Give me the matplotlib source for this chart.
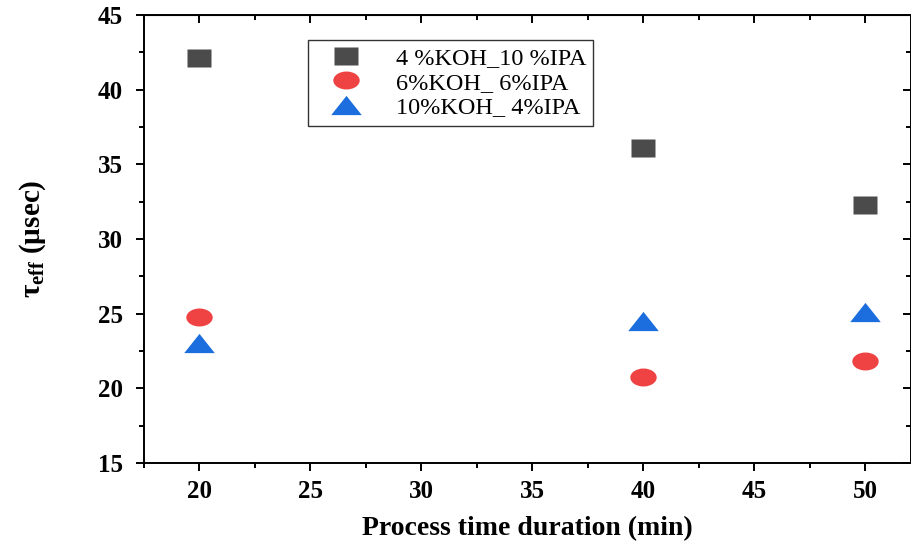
import matplotlib

matplotlib.use("Agg")

import matplotlib.pyplot as plt
import numpy as np
from matplotlib.path import Path
from matplotlib.ticker import MultipleLocator

# data
time_min = [20, 40, 50]
koh4_ipa10 = [42.15, 36.09, 32.31]
koh6_ipa6 = [24.75, 20.73, 21.84]
koh10_ipa4 = [23.05, 24.52, 25.10]
labels = ["4 %KOH_10 %IPA", "6%KOH_ 6%IPA", "10%KOH_ 4%IPA"]

plt.rcParams["font.family"] = ["Liberation Serif", "DejaVu Serif"]
plt.rcParams["mathtext.fontset"] = "custom"
plt.rcParams["mathtext.rm"] = "Liberation Serif:bold"
plt.rcParams["mathtext.it"] = "Liberation Serif:bold:italic"
plt.rcParams["mathtext.bf"] = "Liberation Serif:bold"

# the original markers are a bit wider than tall
sq = Path([(-1, -0.79), (1, -0.79), (1, 0.79), (-1, 0.79), (-1, -0.79)],
          closed=True)
circ = Path.unit_circle()
circ = Path(circ.vertices * np.array([1.0, 0.68]), circ.codes)
tri = Path([(0, 0.63), (-1, -0.63), (1, -0.63), (0, 0.63)], closed=True)

fig = plt.figure(figsize=(9.12, 5.42), dpi=100)
ax = fig.add_axes([144 / 912, 1 - 463 / 542, (911 - 144) / 912, 448 / 542])

ax.plot(time_min, koh4_ipa10, ls="none", marker=sq, ms=17,
        color="#4b4b4b", mec="none", label=labels[0])
ax.plot(time_min, koh6_ipa6, ls="none", marker=circ, ms=19,
        color="#ef4242", mec="none", label=labels[1])
ax.plot(time_min, koh10_ipa4, ls="none", marker=tri, ms=22,
        color="#1c6ddd", mec="none", label=labels[2])

ax.set_xlim(17.5, 52.05)
ax.set_ylim(15, 45)
ax.xaxis.set_major_locator(MultipleLocator(5))
ax.xaxis.set_minor_locator(MultipleLocator(2.5))
ax.yaxis.set_major_locator(MultipleLocator(5))
ax.yaxis.set_minor_locator(MultipleLocator(2.5))

for s in ax.spines.values():
    s.set_linewidth(1.4)
ax.tick_params(which="both", direction="out", width=1.4, labelsize=18)
ax.tick_params(axis="x", pad=6)
ax.tick_params(axis="y", pad=9)
ax.tick_params(which="major", length=6)
ax.tick_params(which="minor", length=3.5)
for lab in ax.get_xticklabels() + ax.get_yticklabels():
    lab.set_fontweight("bold")

# mirrored inward ticks on top/right, no labels
top = ax.secondary_xaxis("top")
top.xaxis.set_major_locator(MultipleLocator(5))
top.xaxis.set_minor_locator(MultipleLocator(2.5))
top.tick_params(which="both", direction="in", width=1.4, labeltop=False)
top.tick_params(which="major", length=6)
top.tick_params(which="minor", length=3.5)
right = ax.secondary_yaxis("right")
right.yaxis.set_major_locator(MultipleLocator(5))
right.yaxis.set_minor_locator(MultipleLocator(2.5))
right.tick_params(which="both", direction="in", width=1.4, labelright=False)
right.tick_params(which="major", length=6)
right.tick_params(which="minor", length=3.5)

ax.set_xlabel("Process time duration (min)", fontsize=20,
              fontweight="bold", labelpad=10)
ax.set_ylabel(r"τ$_{\mathrm{eff}}$ (µsec)", fontsize=21,
              fontweight="bold", labelpad=36)

leg = ax.legend(loc="upper left", bbox_to_anchor=(0.214, 0.944),
                fontsize=17.5, frameon=True, fancybox=False,
                edgecolor="black", borderpad=0.3, labelspacing=0.1,
                handletextpad=0.8, handlelength=2.5, borderaxespad=0,
                markerscale=1.0)
leg.get_frame().set_linewidth(1.0)

fig.savefig("out.png", dpi=100)
